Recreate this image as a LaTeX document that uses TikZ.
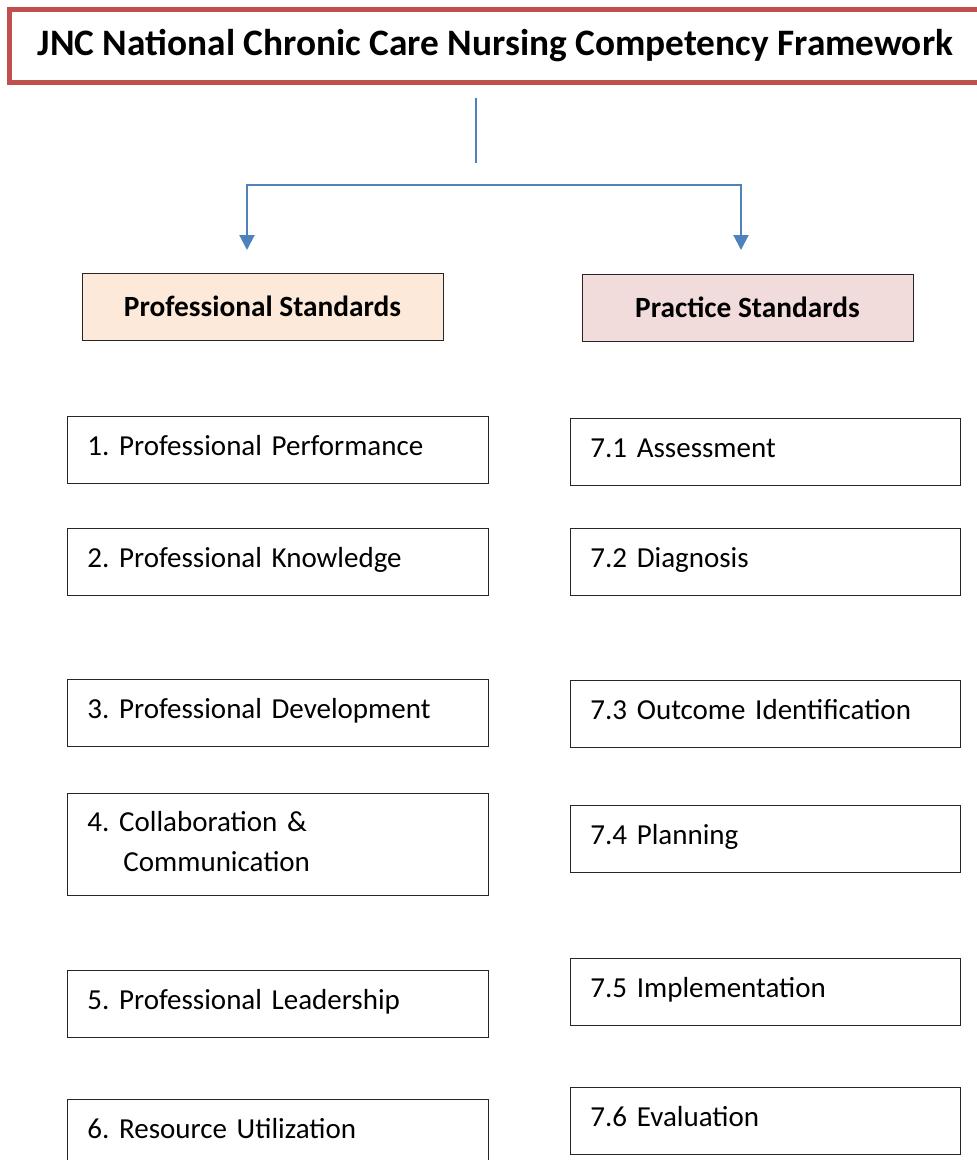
\documentclass[tikz,border=0pt]{standalone}
\usepackage{fontspec}
\setmainfont{Carlito}
\usepackage{xcolor}
\definecolor{jncred}{HTML}{C0504D}
\definecolor{jncblue}{HTML}{4F81BD}
\definecolor{jncpeach}{HTML}{FDE9D9}
\definecolor{jncrose}{HTML}{F2DCDB}
\definecolor{jncedge}{HTML}{262626}
\usepackage{tikz}
\usetikzlibrary{%
      arrows.meta,%
      positioning%
  }
\frenchspacing
\tikzset{
  titlebox/.style={draw=jncred, line width=3.75pt, anchor=north west,
    minimum width=729pt, minimum height=55pt, inner sep=0pt,
    font=\bfseries\fontsize{28}{32}\selectfont},
  headbox/.style={draw=jncedge, line width=0.7pt, minimum height=50.25pt,
    inner sep=0pt, font=\bfseries\fontsize{22}{26}\selectfont},
  leftbox/.style={draw=jncedge, line width=0.7pt, anchor=north west,
    minimum width=315.75pt, minimum height=50.25pt, text width=285.75pt,
    inner xsep=15pt, inner ysep=0pt, align=left,
    font=\fontsize{21.75}{30}\selectfont, text height=14.25pt, text depth=6.65pt},
  rightbox/.style={leftbox, minimum width=292.5pt, text width=262.5pt},
  flowline/.style={draw=jncblue, line width=1.6pt},
  flowtip/.style={flowline, {Triangle[width=11.25pt,length=11.25pt]}-{Triangle[width=11.25pt,length=11.25pt]}}
}

\begin{document}
\begin{tikzpicture}[x=0.75pt,y=-0.75pt]
    \useasboundingbox (0,0) rectangle (976,1160);
    \fill[white] (0,0) rectangle (976,1160);

    % framework title
    \node[titlebox] (title) at (7,6.5) {JNC National Chronic Care Nursing Competency Framework};

    % stem and fork
    \coordinate (stemtop) at (476,98);
    \coordinate (stembot) at (476,163);
    \coordinate (fork) at (476,185);
    \coordinate (proftip) at (247,250);
    \coordinate (practip) at (741,250);
    \draw[flowline] (stemtop) -- (stembot);
    \draw[flowtip] (proftip) |- (fork) -| (practip);

    % the two standards
    \node[headbox, fill=jncpeach, minimum width=270.75pt] (prof) at (262.5,306.5) {Professional Standards};
    \node[headbox, fill=jncrose, minimum width=248.25pt] (prac) at (747.5,307.5) {Practice Standards};

    % professional standards, left column
    \node[leftbox] (prof1) at (67,416) {1. Professional Performance};
    \node[leftbox] (prof2) at (67,528) {2. Professional Knowledge};
    \node[leftbox] (prof3) at (67,679) {3. Professional Development};
    \node[leftbox, minimum height=76.5pt, text depth=33.75pt] (prof4) at (67,793)
      {4. Collaboration \&\\\hspace*{27pt}Communication};
    \node[leftbox] (prof5) at (67,970) {5. Professional Leadership};
    \node[leftbox] (prof6) at (67,1099) {6. Resource Utilization};

    % practice standards, right column
    \node[rightbox] (prac1) at (570,418) {7.1 Assessment};
    \node[rightbox] (prac2) at (570,528) {7.2 Diagnosis};
    \node[rightbox] (prac3) at (570,680) {7.3 Outcome Identification};
    \node[rightbox] (prac4) at (570,805) {7.4 Planning};
    \node[rightbox] (prac5) at (570,958) {7.5 Implementation};
    \node[rightbox] (prac6) at (570,1087) {7.6 Evaluation};
    \end{tikzpicture}
\end{document}
